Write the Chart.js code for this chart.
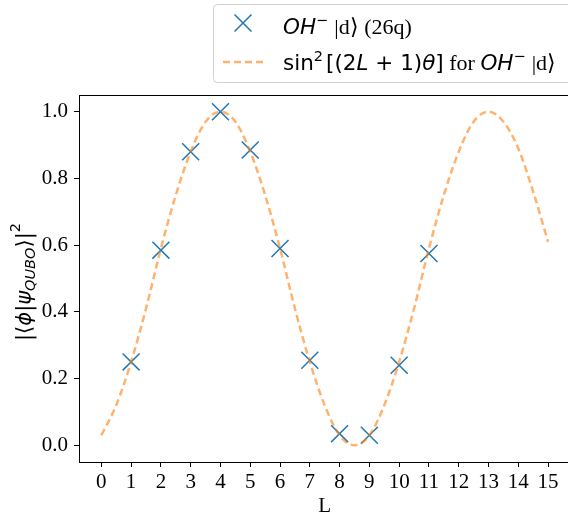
<!DOCTYPE html>
<html>
<head>
<meta charset="utf-8">
<script src="https://cdn.jsdelivr.net/npm/chart.js@4"></script>
<style>
  html, body { margin: 0; padding: 0; background: #fff; overflow: hidden; }
  #wrap { width: 574px; height: 517px; }
</style>
</head>
<body>
<div id="wrap"><canvas id="c" width="574" height="517"></canvas></div>
<script>
// values
const markL = [1, 2, 3, 4, 5, 6, 7, 8, 9, 10, 11];
const markY = [0.25, 0.585, 0.88, 1.0, 0.885, 0.59, 0.255, 0.035, 0.03, 0.24, 0.575];

const curveL = [0, 0.5, 1, 1.5, 2, 2.5, 3, 3.5, 4, 4.5, 5, 5.5, 6, 6.5, 7, 7.5,
                8, 8.5, 9, 9.5, 10, 10.5, 11, 11.5, 12, 12.5, 13, 13.5, 14, 14.5, 15];
const curveY = [0.03, 0.12, 0.25, 0.41, 0.59, 0.75, 0.88, 0.97, 1.00, 0.97, 0.88, 0.75, 0.59, 0.41, 0.25, 0.12,
                0.03, 0.00, 0.03, 0.12, 0.25, 0.41, 0.59, 0.75, 0.88, 0.97, 1.00, 0.97, 0.89, 0.76, 0.61];

const xTicks = [0, 1, 2, 3, 4, 5, 6, 7, 8, 9, 10, 11, 12, 13, 14, 15];
const yTicks = [0, 0.2, 0.4, 0.6, 0.8, 1.0];

const BLUE = '#1f77b4';
const ORANGE = 'rgba(255,127,14,0.6)';
const SERIF = '"Liberation Serif", "Times New Roman", serif';
const SANS = '"DejaVu Sans", sans-serif';

function drawRuns(ctx, x, y, runs) {
  runs.forEach(r => {
    ctx.font = r.font;
    ctx.fillText(r.t, x, y + (r.dy || 0));
    x += ctx.measureText(r.t).width + (r.gap || 0);
  });
  return x;
}
function runsWidth(ctx, runs) {
  let w = 0;
  runs.forEach(r => { ctx.font = r.font; w += ctx.measureText(r.t).width + (r.gap || 0); });
  return w;
}

const it = s => 'italic ' + s + 'px ' + SANS;
const up = s => s + 'px ' + SANS;
const sf = s => s + 'px ' + SERIF;

const noPad = s => { s.paddingLeft = 0; s.paddingRight = 0; s.paddingTop = 0; s.paddingBottom = 0; };

const decor = {
  id: 'decor',
  afterDraw(chart) {
    const ctx = chart.ctx;
    const a = chart.chartArea;
    ctx.save();
    // frame
    ctx.strokeStyle = '#000';
    ctx.lineWidth = 1;
    ctx.strokeRect(a.left + 0.5, a.top + 0.5, a.right - a.left, a.bottom - a.top);

    // legend box
    ctx.fillStyle = 'rgba(255,255,255,0.8)';
    ctx.strokeStyle = '#d0d0d0';
    ctx.beginPath();
    ctx.roundRect(213.5, 4.5, 400, 78, 4);
    ctx.fill();
    ctx.stroke();

    // legend handles
    ctx.strokeStyle = BLUE;
    ctx.lineWidth = 1.5;
    ctx.beginPath();
    ctx.moveTo(243 - 8.5, 23 - 8.5); ctx.lineTo(243 + 8.5, 23 + 8.5);
    ctx.moveTo(243 - 8.5, 23 + 8.5); ctx.lineTo(243 + 8.5, 23 - 8.5);
    ctx.stroke();
    ctx.strokeStyle = ORANGE;
    ctx.lineWidth = 2.5;
    ctx.setLineDash([7, 4]);
    ctx.beginPath();
    ctx.moveTo(223, 62); ctx.lineTo(263, 62);
    ctx.stroke();
    ctx.setLineDash([]);

    // legend text
    ctx.fillStyle = '#000';
    ctx.textBaseline = 'alphabetic';
    ctx.textAlign = 'left';
    drawRuns(ctx, 283, 34, [
      { t: 'OH', font: it(21.5) },
      { t: '\u2212', font: up(14.5), dy: -9, gap: 6 },
      { t: '|d\u27E9 (26q)', font: sf(22) }
    ]);
    drawRuns(ctx, 283, 70, [
      { t: 'sin', font: up(21.5) },
      { t: '2', font: up(14.5), dy: -9, gap: 3 },
      { t: '[(2', font: up(21.5) },
      { t: 'L', font: it(21.5) },
      { t: ' + 1)', font: up(21.5) },
      { t: '\u03B8', font: it(21.5) },
      { t: ']', font: up(21.5) },
      { t: ' for ', font: sf(22) },
      { t: 'OH', font: it(21.5) },
      { t: '\u2212', font: up(14.5), dy: -9, gap: 6 },
      { t: '|d\u27E9', font: sf(22) }
    ]);

    // x title
    ctx.font = sf(21);
    ctx.textAlign = 'center';
    ctx.fillText('L', (a.left + a.right) / 2, 512);

    // y title
    const yRuns = [
      { t: '|\u27E8', font: up(21) },
      { t: '\u03D5', font: it(21) },
      { t: '|', font: up(21) },
      { t: '\u03C8', font: it(21) },
      { t: 'QUBO', font: it(14.5), dy: 4 },
      { t: '\u27E9|', font: up(21) },
      { t: '2', font: up(14.5), dy: -11 }
    ];
    ctx.textAlign = 'left';
    const w = runsWidth(ctx, yRuns);
    ctx.translate(31, 282);
    ctx.rotate(-Math.PI / 2);
    drawRuns(ctx, -w / 2, 0, yRuns);
    ctx.restore();
  }
};

new Chart(document.getElementById('c'), {
  data: {
    datasets: [
      {
        type: 'line',
        data: curveL.map((x, i) => ({ x, y: curveY[i] })),
        borderColor: ORANGE,
        borderWidth: 2.5,
        borderDash: [7, 4],
        pointRadius: 0,
        cubicInterpolationMode: 'monotone',
        fill: false,
        order: 0
      },
      {
        type: 'scatter',
        data: markL.map((x, i) => ({ x, y: markY[i] })),
        pointStyle: 'crossRot',
        pointRadius: 12,
        pointBorderWidth: 1.5,
        borderColor: BLUE,
        backgroundColor: BLUE,
        order: 1
      }
    ]
  },
  options: {
    responsive: false,
    devicePixelRatio: 1,
    animation: false,
    layout: { autoPadding: false, padding: { top: 95, right: 3.6, left: 0, bottom: 0 } },
    plugins: { legend: { display: false }, tooltip: { enabled: false } },
    scales: {
      x: {
        type: 'linear',
        min: -0.75,
        max: 15.75,
        afterBuildTicks: s => { s.ticks = xTicks.map(v => ({ value: v })); },
        afterFit: s => { s.height = 55; noPad(s); },
        ticks: {
          autoSkip: false, maxRotation: 0, padding: 3, color: '#000',
          font: { family: SERIF, size: 21 },
          callback: v => String(v)
        },
        grid: { drawOnChartArea: false, tickLength: 5, color: '#000' },
        border: { color: '#000' }
      },
      y: {
        type: 'linear',
        min: -0.05,
        max: 1.05,
        afterBuildTicks: s => { s.ticks = yTicks.map(v => ({ value: v })); },
        afterFit: s => { s.width = 79; noPad(s); },
        ticks: {
          autoSkip: false, padding: 6, color: '#000',
          font: { family: SERIF, size: 21 },
          callback: v => v.toFixed(1)
        },
        grid: { drawOnChartArea: false, tickLength: 5, color: '#000' },
        border: { color: '#000' }
      }
    }
  },
  plugins: [decor]
});
</script>
</body>
</html>
